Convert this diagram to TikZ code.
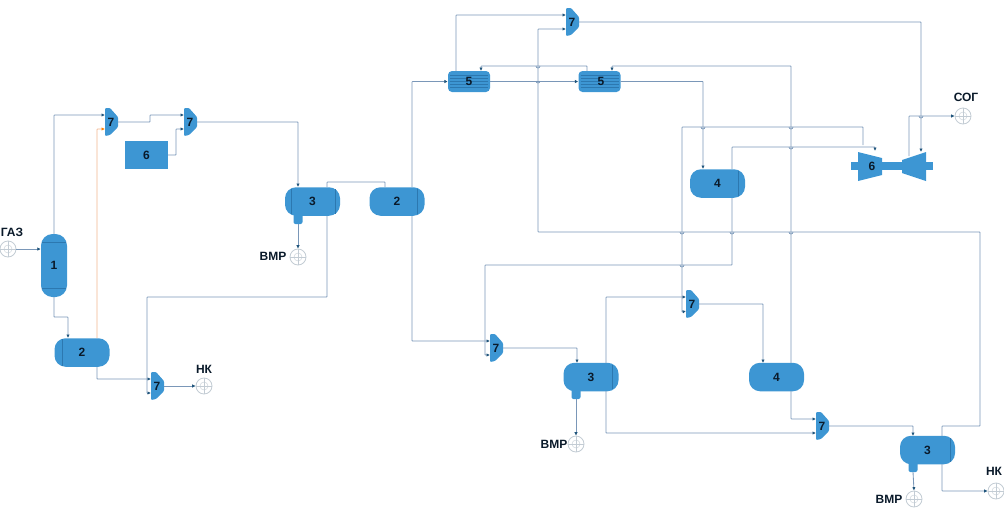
\documentclass[tikz,border=0pt]{standalone}
\usepackage{fontspec}
\setmainfont{Liberation Sans}
\usetikzlibrary{arrows.meta}
\definecolor{eq}{HTML}{3D96D3}
\definecolor{eqd}{HTML}{2C78B0}
\definecolor{pipe}{HTML}{7A97B8}
\definecolor{pipeo}{HTML}{F2B48E}
\definecolor{src}{HTML}{C3CCD4}
\definecolor{txt}{HTML}{0A1A2A}
\newcommand{\lblfont}{\fontsize{12}{14}\selectfont\bfseries}
\tikzset{
  x=1pt,y=-1pt,
  pipe/.style={draw=pipe,line width=0.85pt,rounded corners=0.6pt},
  flow/.style={pipe,-{Latex[length=3.4pt,width=3.4pt,color=eqd!70!black]}},
  vessel/.style={rectangle,rounded corners=11pt,fill=eq,inner sep=0pt,minimum width=55pt,minimum height=28.5pt,font=\lblfont,text=txt},
  tall/.style={rounded corners=11.5pt,rectangle,fill=eq,inner sep=0pt,minimum width=26pt,minimum height=63pt,font=\lblfont,text=txt},
  plate/.style={rectangle,rounded corners=4pt,fill=eq,inner sep=0pt,minimum width=42pt,minimum height=21pt},
  blockbox/.style={rectangle,fill=eq,inner sep=0pt,minimum width=43pt,minimum height=28pt,font=\lblfont,text=txt},
  mixbox/.style={inner sep=0pt,minimum width=13pt,minimum height=28pt,font=\lblfont,text=txt},
  srcnode/.style={circle,draw=src,line width=0.8pt,fill=white,minimum size=16pt,inner sep=0pt},
  lbl/.style={font=\lblfont,inner sep=0pt,text=txt},
  sep/.style={draw=eqd,line width=0.5pt},
}
% mixer: name, x, y
\newcommand{\mixer}[3]{%
  \fill[eq,rounded corners=1pt] (#2-6,#3-14) -- (#2-1,#3-14) -- (#2+7,#3-5) -- (#2+7,#3+5) -- (#2-1,#3+13) -- (#2-6,#3+14) -- cycle;
  \node[mixbox] (#1) at (#2,#3) {7};
  \coordinate (#1a) at (#2-6,#3-7);
  \coordinate (#1b) at (#2-6,#3+7);
  \coordinate (#1o) at (#2+7,#3);
}
\newcommand{\hop}[2]{\draw[draw=pipe,line width=0.7pt] (#1-2,#2) arc (180:0:2);}
\newcommand{\boot}[2]{\fill[eq,rounded corners=2pt] (#1-4.5,#2-3) rectangle (#1+4.5,#2+8);}
\begin{document}
\begin{tikzpicture}
\useasboundingbox (0,0) rectangle (1004,517);
% vessels
\node[tall] (v1) at (54,265.5) {1};
\draw[sep] (42,242) -- (66,242) (42,288) -- (66,288);
\node[vessel] (v2a) at (82,352.5) {2};
\draw[sep] (62,339) -- (62,366);
\node[vessel] (v2b) at (397,201.5) {2};
\draw[sep] (417,189) -- (417,214);
\boot{298}{216}
\node[vessel] (v3a) at (312.5,201.5) {3};
\draw[sep] (291,189) -- (291,214) (335,189) -- (335,214);
\boot{576}{391}
\node[vessel] (v3b) at (591,377) {3};
\draw[sep] (612,365) -- (612,389);
\boot{913}{464}
\node[vessel] (v3c) at (927.5,450) {3};
\draw[sep] (950,438) -- (950,462);
\node[vessel] (v4a) at (717.5,183.5) {4};
\draw[sep] (738,171) -- (738,196);
\node[vessel] (v4b) at (776.5,377) {4};
\node[blockbox] (b6) at (146.5,155) {6};
\node[plate] (h5a) at (469,81.5) {};
\node[plate] (h5b) at (599.5,81.5) {};
\foreach \cx in {469,599.5}{
  \foreach \dy in {-6,-3,0,3,6}{\draw[eqd,line width=0.3pt] (\cx-19,81.5+\dy) -- (\cx+19,81.5+\dy);}
}
\node[lbl] at (469,81) {5};
\node[lbl] at (601,81) {5};
% mixers
\mixer{ma}{111}{122}
\mixer{mb}{190}{122}
\mixer{mc}{157}{386}
\mixer{md}{496}{348}
\mixer{me}{692}{304}
\mixer{mf}{822}{426}
\mixer{mg}{572}{22}
% compressor / turbine
\fill[eq] (851,162) rectangle (933,170);
\fill[eq] (858,152) -- (882,158) -- (882,175) -- (858,181) -- cycle;
\fill[eq] (902,160) -- (926,152) -- (926,181) -- (902,173) -- cycle;
\node[lbl,minimum width=25pt,minimum height=29pt] (cp) at (872,166) {6};
\node[inner sep=0pt,minimum width=24pt,minimum height=29pt] (tb) at (914,166) {};
% sources
\node[srcnode] (sgaz) at (8,249) {};
\node[srcnode] (svmr1) at (298,257) {};
\node[srcnode] (snk1) at (204,386) {};
\node[srcnode] (svmr2) at (576,444) {};
\node[srcnode] (svmr3) at (914,499) {};
\node[srcnode] (snk2) at (996,491) {};
\node[srcnode] (ssog) at (963,116) {};
\foreach \s in {sgaz,svmr1,snk1,svmr2,svmr3,snk2,ssog}{
  \draw[src,line width=0.4pt] (\s.center) circle (4pt);
  \draw[src,line width=0.4pt] (\s.west) -- (\s.east) (\s.north) -- (\s.south);
}
\node[lbl] at (12,232) {ГАЗ};
\node[lbl] at (273,256) {ВМР};
\node[lbl] at (204,369) {НК};
\node[lbl] at (554,444) {ВМР};
\node[lbl] at (889,499) {ВМР};
\node[lbl] at (994,471) {НК};
\node[lbl] at (966,97) {СОГ};
% connectors
\draw[flow] (sgaz.east) -- (v1.west |- sgaz.east);
\draw[flow] (v1.north) |- (maa);
\draw[pipe,-{Latex[length=3.4pt,width=3.4pt,color=orange]},draw=pipeo] (97,338) |- (mab);
\draw[flow] (v1.south) |- (68,317) -- (68,338);
\draw[flow] (mao) -- (150,122) |- (mba);
\draw[flow] (b6.east) -- (176,155) |- (mbb);
\draw[flow] (mbo) -| (298,187);
\draw[flow] (298,224) -- (svmr1.north);
\draw[pipe] (327,187) |- (385,182) -- (385,187);
\draw[pipe] (327,216) |- (147,297) -- (147,393);
\draw[flow] (147,393) -- (mcb);
\draw[flow] (97,367) |- (mca);
\draw[flow] (mco) -- (snk1.west);
% second stage
\draw[flow] (412,187) |- (h5a.west);
\draw[flow] (412,216) |- (mda);
\draw[flow] (456,71) |- (mga);
\draw[flow] (h5a.east) -- (h5b.west);
\draw[flow] (587,71) |- (481,66) -- (481,71);
\draw[flow] (791,363) |- (612,66) -- (612,71);
\draw[flow] (h5b.east) -| (703,169);
\draw[flow] (mgo) -| (921,152);
\draw[flow] (942,436) |- (980,426) |- (538,232) |- (mgb);
\draw[flow] (732,198) |- (485,265) |- (mdb);
\draw[flow] (732,169) |- (875,147) -- (875,151);
\draw[pipe] (682,312) -- (682,127) -| (863,145);
\draw[flow] (682,312) -- (meb);
\draw[flow] (mdo) -| (577,363);
\draw[flow] (576,399) -- (svmr2.north);
\draw[flow] (606,363) |- (mea);
\draw[flow] (606,391) |- (mfb);
\draw[flow] (meo) -| (763,363);
\draw[flow] (791,391) |- (mfa);
\draw[flow] (mfo) -| (913,436);
\draw[flow] (913,472) -- (svmr3.north);
\draw[flow] (942,464) |- (snk2.west);
\draw[flow] (909,156) |- (ssog.west);
% line hops
\hop{538}{66}\hop{538}{81}\hop{703}{127}\hop{791}{127}\hop{791}{147}
\hop{682}{232}\hop{732}{232}\hop{791}{232}\hop{921}{116}\hop{682}{265}
\end{tikzpicture}
\end{document}
